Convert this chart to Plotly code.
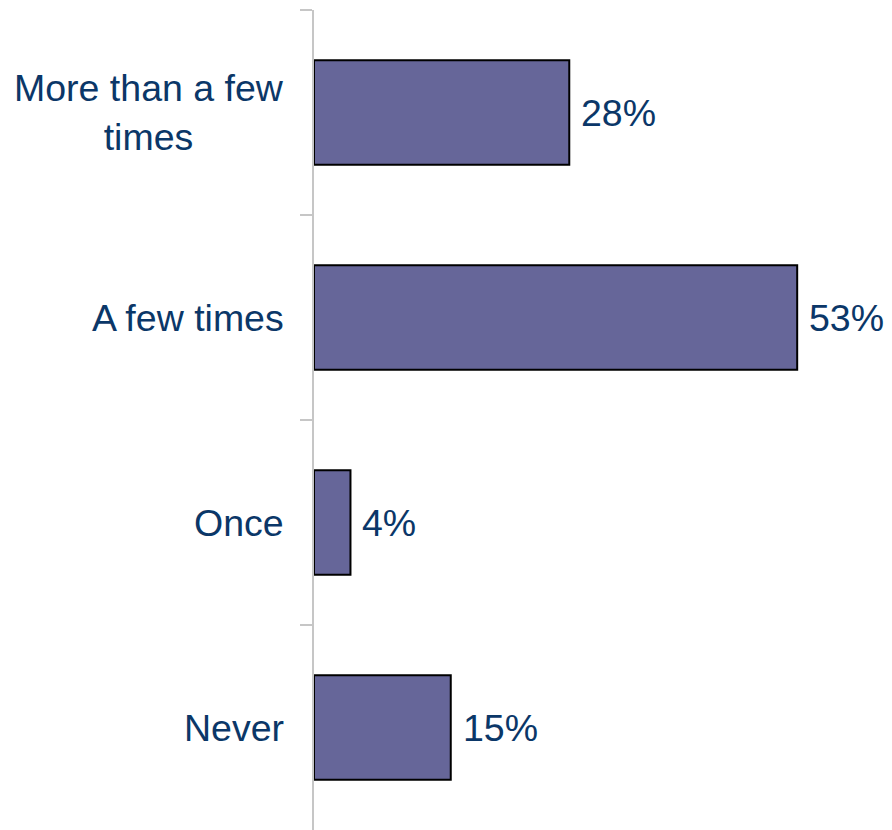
import plotly.graph_objects as go

categories = ["More than a few<br>times", "A few times", "Once", "Never"]
values = [28, 53, 4, 15]
value_labels = ["28%", "53%", "4%", "15%"]

TEXT = "#0b3768"
FONT = "Liberation Sans, Arial, sans-serif"
FS = 37.5

fig = go.Figure(go.Bar(
    y=categories, x=values, orientation="h",
    marker=dict(color="#666699", line=dict(color="#000000", width=2)),
    hoverinfo="skip",
))

annotations = []
for c, v, t in zip(categories, values, value_labels):
    annotations.append(dict(x=v, y=c, xref="x", yref="y", text=t, showarrow=False,
                            xanchor="left", yanchor="middle", xshift=10,
                            font=dict(size=FS, color=TEXT, family=FONT)))
    annotations.append(dict(x=0, y=c, xref="paper", yref="y", text=c, showarrow=False,
                            xanchor="right", yanchor="middle", xshift=-28, align="center",
                            font=dict(size=FS, color=TEXT, family=FONT)))

fig.update_layout(
    width=892, height=830,
    margin=dict(l=314, r=0, t=10, b=0),
    paper_bgcolor="white", plot_bgcolor="white",
    showlegend=False, bargap=0.49,
    annotations=annotations,
    font=dict(family=FONT, color=TEXT, size=FS),
)
fig.update_xaxes(range=[0, 63.4], visible=False, showgrid=False, zeroline=False)
fig.update_yaxes(autorange="reversed", showticklabels=False, showgrid=False,
                 showline=True, linecolor="#c6c6c6", linewidth=2,
                 ticks="outside", tickson="boundaries", ticklen=12,
                 tickcolor="#c6c6c6", tickwidth=2)

fig.write_html("out.html")
